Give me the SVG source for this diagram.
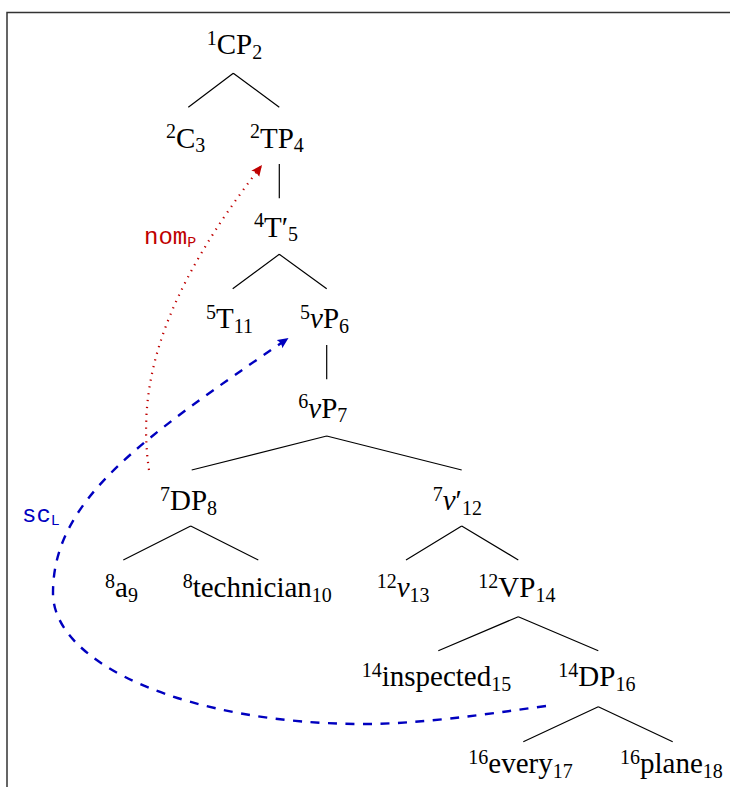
<svg xmlns="http://www.w3.org/2000/svg" width="730" height="787" viewBox="0 0 730 787">
<style>
.t{font-family:'Liberation Serif','Times New Roman','DejaVu Serif',serif;font-size:29px;fill:#000}
.s{font-size:20px}
.i{font-style:italic}
.e{stroke:#000;stroke-width:1.2;fill:none}
.m{font-family:'Liberation Mono','Courier New',monospace;font-size:24px}
.ms{font-size:15px}
</style>
<defs>
<marker id="ar" markerUnits="userSpaceOnUse" markerWidth="14" markerHeight="12" refX="11" refY="5" orient="auto">
<path d="M0,0 L11,5 L0,10 Q3,5 0,0 z" fill="#bf0000"/>
</marker>
<marker id="ab" markerUnits="userSpaceOnUse" markerWidth="14" markerHeight="12" refX="11" refY="5" orient="auto">
<path d="M0,0 L11,5 L0,10 Q3,5 0,0 z" fill="#0000bf"/>
</marker>
</defs>
<rect x="7" y="12.5" width="740" height="800" fill="#fff" stroke="#333" stroke-width="1.5"/>
<g id="connectors">
<path class="e" d="M233.3,73.3 L188.3,107.3 M233.3,73.3 L279.3,107.3"/>
<path class="e" d="M279.3,164 L279.3,198.3"/>
<path class="e" d="M279.3,254.3 L232.7,288.7 M279.3,254.3 L326.7,288.7"/>
<path class="e" d="M326.7,345 L326.7,379.3"/>
<path class="e" d="M326.7,436 L191.7,470 M326.7,436 L461.7,470"/>
<path class="e" d="M190.7,526 L123.3,560 M190.7,526 L258.3,560"/>
<path class="e" d="M461.7,526 L406,560 M461.7,526 L518.3,560"/>
<path class="e" d="M518.3,616.7 L438.3,650.7 M518.3,616.7 L598.3,650.7"/>
<path class="e" d="M598.3,706.7 L523.3,741.7 M598.3,706.7 L672.7,741.7"/>
<path id="nom" d="M149,470 C136,380 165,290 262,165" fill="none" stroke="#bf0000" stroke-width="2.2" stroke-dasharray="1.3 5.6" marker-end="url(#ar)"/>
<path id="sc" d="M546,706 C480,715 420,724 363,724 C191.9,724 53,665.3 53,593 C53,500 140,440 288.5,338" fill="none" stroke="#0000bf" stroke-width="2.4" stroke-dasharray="9 8.5" marker-end="url(#ab)"/>
<text class="m" x="144" y="244" fill="#bf0000">nom<tspan class="ms" dy="2.5">P</tspan></text>
<text class="m" x="22" y="521.7" fill="#0000bf">sc<tspan class="ms" dy="3">L</tspan></text>
</g>
<g id="n-cp"><text class="t" x="206.7" y="54"><tspan class="s" dy="-9.5">1</tspan><tspan dy="9.5">CP</tspan><tspan class="s" dy="4.7">2</tspan></text></g>
<g id="n-c"><text class="t" x="166" y="147.5"><tspan class="s" dy="-9.5">2</tspan><tspan dy="9.5">C</tspan><tspan class="s" dy="4.7">3</tspan></text></g>
<g id="n-tp"><text class="t" x="250" y="147.5"><tspan class="s" dy="-9.5">2</tspan><tspan dy="9.5">TP</tspan><tspan class="s" dy="4.7">4</tspan></text></g>
<g id="n-tbar"><text class="t" x="254" y="236.7"><tspan class="s" dy="-9.5">4</tspan><tspan dy="9.5">T′</tspan><tspan class="s" dy="4.7">5</tspan></text></g>
<g id="n-t"><text class="t" x="206" y="328"><tspan class="s" dy="-9.5">5</tspan><tspan dy="9.5">T</tspan><tspan class="s" dy="4.7">11</tspan></text></g>
<g id="n-vp6"><text class="t" x="300" y="328"><tspan class="s" dy="-9.5">5</tspan><tspan class="i" dy="9.5">v</tspan><tspan>P</tspan><tspan class="s" dy="4.7">6</tspan></text></g>
<g id="n-vp7"><text class="t" x="298.3" y="417.5"><tspan class="s" dy="-9.5">6</tspan><tspan class="i" dy="9.5">v</tspan><tspan>P</tspan><tspan class="s" dy="4.7">7</tspan></text></g>
<g id="n-dp8"><text class="t" x="160" y="510"><tspan class="s" dy="-9.5">7</tspan><tspan dy="9.5">DP</tspan><tspan class="s" dy="4.7">8</tspan></text></g>
<g id="n-vbar"><text class="t" x="432.7" y="510"><tspan class="s" dy="-9.5">7</tspan><tspan class="i" dy="9.5">v</tspan><tspan>′</tspan><tspan class="s" dy="4.7">12</tspan></text></g>
<g id="n-a"><text class="t" x="105" y="597"><tspan class="s" dy="-9.5">8</tspan><tspan dy="9.5">a</tspan><tspan class="s" dy="4.7">9</tspan></text></g>
<g id="n-tech"><text class="t" x="182.7" y="597"><tspan class="s" dy="-9.5">8</tspan><tspan dy="9.5">technician</tspan><tspan class="s" dy="4.7">10</tspan></text></g>
<g id="n-v"><text class="t" x="376.7" y="597"><tspan class="s" dy="-9.5">12</tspan><tspan class="i" dy="9.5">v</tspan><tspan class="s" dy="4.7">13</tspan></text></g>
<g id="n-vp14"><text class="t" x="478.3" y="597"><tspan class="s" dy="-9.5">12</tspan><tspan dy="9.5">VP</tspan><tspan class="s" dy="4.7">14</tspan></text></g>
<g id="n-insp"><text class="t" x="361.7" y="686"><tspan class="s" dy="-9.5">14</tspan><tspan dy="9.5">inspected</tspan><tspan class="s" dy="4.7">15</tspan></text></g>
<g id="n-dp16"><text class="t" x="558.3" y="686"><tspan class="s" dy="-9.5">14</tspan><tspan dy="9.5">DP</tspan><tspan class="s" dy="4.7">16</tspan></text></g>
<g id="n-every"><text class="t" x="468.3" y="773"><tspan class="s" dy="-9.5">16</tspan><tspan dy="9.5">every</tspan><tspan class="s" dy="4.7">17</tspan></text></g>
<g id="n-plane"><text class="t" x="620" y="773"><tspan class="s" dy="-9.5">16</tspan><tspan dy="9.5">plane</tspan><tspan class="s" dy="4.7">18</tspan></text></g>
</svg>
